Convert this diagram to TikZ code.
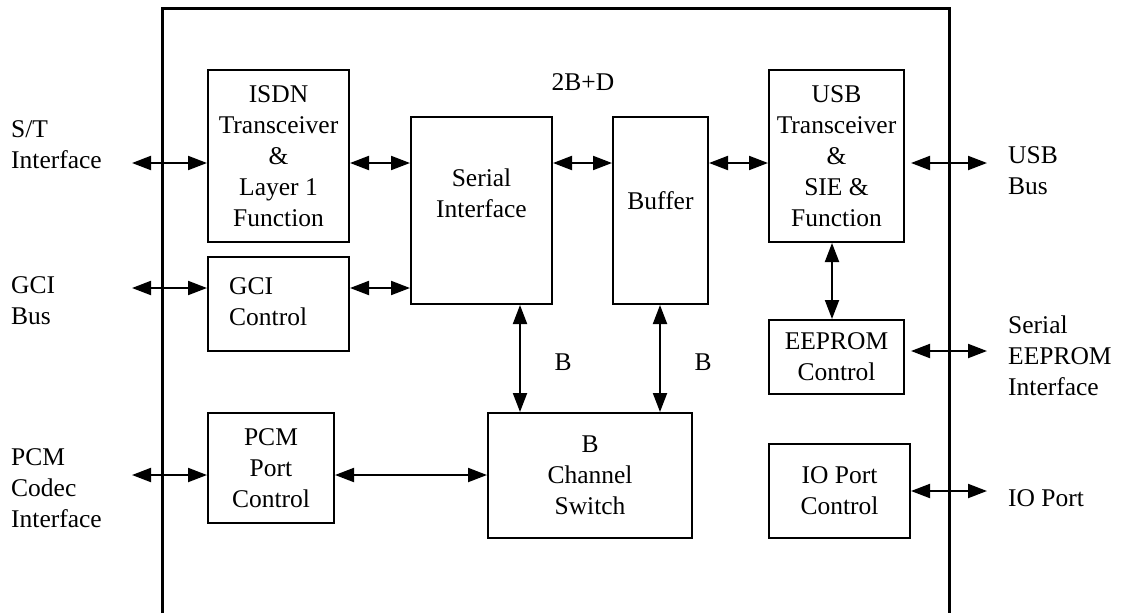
\documentclass[tikz,border=0pt]{standalone}
\usepackage{fontspec}
\setmainfont{Liberation Serif}
\usetikzlibrary{arrows.meta,calc}
\begin{document}
\begin{tikzpicture}[x=1pt,y=-1pt,
  every node/.style={font=\fontsize{25.5}{31}\selectfont, inner sep=0pt},
  box/.style={draw, line width=2pt, rectangle, align=center},
  dar/.style={{Triangle[length=19pt,width=14pt]}-{Triangle[length=19pt,width=14pt]}, line width=2pt},
  lbl/.style={anchor=base west}]
\useasboundingbox (0,0) rectangle (1123,613);
% outer chip outline
\draw[line width=3pt, line join=miter] (162,613) -- (162,8) -- (949,8) -- (949,613);

% blocks
\node[box, minimum width=141pt, minimum height=172pt] (isdn) at (278.5,156) {ISDN\\Transceiver\\\&\\Layer 1\\Function};
\node[box, minimum width=141pt, minimum height=94pt] (gci) at (278.5,304) {};
\node[anchor=west, align=left] (gcit) at (229,302) {GCI\\Control};
\node[box, minimum width=141pt, minimum height=187pt] (serial) at (481.5,210.5) {};
\node[align=center] (serialt) at (481.5,193) {Serial\\Interface};
\node[box, minimum width=95pt, minimum height=187pt] (buffer) at (660.5,210.5) {};
\node (buffert) at (660.5,201) {Buffer};
\node[box, minimum width=135pt, minimum height=172pt] (usb) at (836.5,156) {USB\\Transceiver\\\&\\SIE \&\\Function};
\node[box, minimum width=135pt, minimum height=74pt] (eeprom) at (836.5,357) {EEPROM\\Control};
\node[box, minimum width=141pt, minimum height=94pt] (io) at (839.5,491) {IO Port\\Control};
\node[box, minimum width=126pt, minimum height=110pt] (pcm) at (271,468) {PCM\\Port\\Control};
\node[box, minimum width=204pt, minimum height=125pt] (bcs) at (590,475.5) {B\\Channel\\Switch};

% inner labels
\node (l2bd) at (583,82) {2B+D};
\node (lb1) at (563,362) {B};
\node (lb2) at (703,362) {B};

% outside labels
\node[lbl] (lst) at (11,137) {\begin{tabular}[t]{@{}l@{}}S/T\\Interface\end{tabular}};
\node[lbl] (lgci) at (11,293) {\begin{tabular}[t]{@{}l@{}}GCI\\Bus\end{tabular}};
\node[lbl] (lpcm) at (11,465) {\begin{tabular}[t]{@{}l@{}}PCM\\Codec\\Interface\end{tabular}};
\node[lbl] (lusb) at (1008,163) {\begin{tabular}[t]{@{}l@{}}USB\\Bus\end{tabular}};
\node[lbl] (lee) at (1008,333) {\begin{tabular}[t]{@{}l@{}}Serial\\EEPROM\\Interface\end{tabular}};
\node[lbl] (lio) at (1008,506) {IO Port};

% connector anchors
\coordinate (stL) at (132,163);
\coordinate (gciL) at (132,288);
\coordinate (pcmL) at (132,475);
\coordinate (usbR) at (987,163);
\coordinate (eeR) at (987,351);
\coordinate (ioR) at (987,491);
\coordinate (vu) at (832,0);
\coordinate (vs) at (520,0);
\coordinate (vb) at (660,0);

% connectors
\draw[dar] (stL) -- (stL -| isdn.west);
\draw[dar] (gciL) -- (gciL -| gci.west);
\draw[dar] (pcmL) -- (pcmL -| pcm.west);
\draw[dar] (isdn.east |- stL) -- (serial.west |- stL);
\draw[dar] (gci.east |- gciL) -- (serial.west |- gciL);
\draw[dar] (serial.east |- stL) -- (buffer.west |- stL);
\draw[dar] (buffer.east |- stL) -- (usb.west |- stL);
\draw[dar] ($(usb.east |- usbR)+(6,0)$) -- (usbR);
\draw[dar] ($(eeprom.east |- eeR)+(6,0)$) -- (eeR);
\draw[dar] (io.east |- ioR) -- (ioR);
\draw[dar] (usb.south -| vu) -- (eeprom.north -| vu);
\draw[dar] (serial.south -| vs) -- (bcs.north -| vs);
\draw[dar] (buffer.south -| vb) -- (bcs.north -| vb);
\draw[dar] (pcm.east |- pcmL) -- (bcs.west |- pcmL);
\end{tikzpicture}
\end{document}
